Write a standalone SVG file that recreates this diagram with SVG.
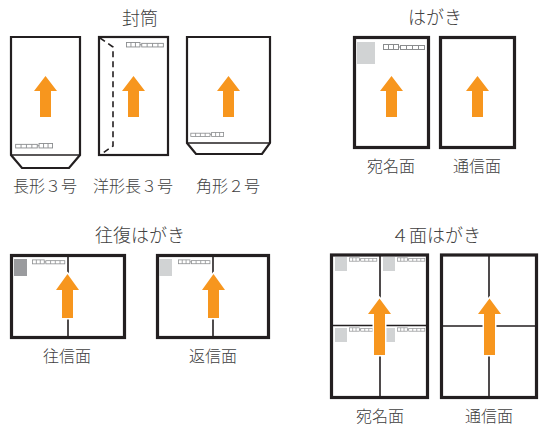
<svg xmlns="http://www.w3.org/2000/svg" xmlns:xlink="http://www.w3.org/1999/xlink" width="539" height="427" viewBox="0 0 539 427">
<style>
text{font-family:"Noto Sans CJK JP","Noto Sans",sans-serif;fill:#404040;text-anchor:middle;font-weight:300}
.t{font-size:18px}
.l{font-size:16px}
.env{fill:#fff;stroke:#231f20;stroke-width:2.2;stroke-linejoin:miter}
.card{fill:#fff;stroke:#231f20;stroke-width:3.2}
.div{stroke:#231f20;stroke-width:1.6;fill:none}
.arr{fill:#f7961e;stroke:#fff;stroke-width:3;paint-order:stroke}
.pc{fill:#fff;stroke:#8a8c8e;stroke-width:1}
.st{fill:#d1d3d4}
.st2{fill:#9a9b9e}
</style>
<defs>
<g id="pc" class="pc">
<rect x="0.5" y="0.5" width="15" height="5"/>
<path d="M5.5 0.5V5.5M10.5 0.5V5.5M15.5 3H17.5"/>
<rect x="17.5" y="1.5" width="24" height="4"/>
<path d="M23.5 1.5V5.5M29.5 1.5V5.5M35.5 1.5V5.5"/>
</g>
<path id="arrA" d="M0 0L11.5 15H5.5V41H-5.5V15H-11.5Z"/>
<path id="arrB" d="M0 0L11.5 16H5.5V44H-5.5V16H-11.5Z"/>
<path id="arrC" d="M0 0L11.5 15.5H5.5V56.5H-5.5V15.5H-11.5Z"/>
</defs>

<g id="title-envelopes"><text class="t" x="140" y="25">封筒</text></g>

<g id="env-naga3">
<path class="env" d="M11 155V37H80V155L69 168H22Z"/>
<path class="div" d="M11 155H80" stroke-width="2.2"/>
<use xlink:href="#pc" transform="translate(53,143) scale(-0.9,0.9)"/>
<use xlink:href="#arrA" class="arr" transform="translate(45.5,76)"/>
<text class="l" x="45" y="192">長形３号</text>
</g>

<g id="env-younaga3">
<rect class="env" x="99" y="37" width="69" height="118"/>
<path d="M100 38L113 47V146L100 155" fill="none" stroke="#231f20" stroke-width="1.6" stroke-dasharray="6 4"/>
<use xlink:href="#pc" transform="translate(126,42) scale(0.9)"/>
<use xlink:href="#arrA" class="arr" transform="translate(133.5,76)"/>
<text class="l" x="133" y="192">洋形長３号</text>
</g>

<g id="env-kaku2">
<path class="env" d="M187 143V37H270V143L262 154H196Z"/>
<path class="div" d="M187 143H270" stroke-width="2.2"/>
<use xlink:href="#pc" transform="translate(224,132) scale(-0.8,0.8)"/>
<use xlink:href="#arrA" class="arr" transform="translate(228.5,76)"/>
<text class="l" x="228" y="192">角形２号</text>
</g>

<g id="title-hagaki"><text class="t" x="435" y="24">はがき</text></g>

<g id="hagaki-address">
<rect class="card" x="354.5" y="37.5" width="74" height="110"/>
<rect class="st" x="357" y="42" width="18" height="22"/>
<use xlink:href="#pc" transform="translate(383,44)"/>
<use xlink:href="#arrA" class="arr" transform="translate(391.5,76)"/>
<text class="l" x="391" y="172">宛名面</text>
</g>

<g id="hagaki-message">
<rect class="card" x="440.5" y="37.5" width="74" height="110"/>
<use xlink:href="#arrA" class="arr" transform="translate(477.5,76)"/>
<text class="l" x="477" y="172">通信面</text>
</g>

<g id="title-oufuku"><text class="t" x="140" y="242">往復はがき</text></g>

<g id="oufuku-out">
<rect class="card" x="11.5" y="255.5" width="113" height="82"/>
<path class="div" d="M68 256V337"/>
<rect class="st2" x="14" y="259" width="13" height="17"/>
<use xlink:href="#pc" transform="translate(32,259.5) scale(0.79)"/>
<use xlink:href="#arrB" class="arr" transform="translate(67.5,274)"/>
<text class="l" x="67" y="362">往信面</text>
</g>

<g id="oufuku-reply">
<rect class="card" x="157.5" y="255.5" width="111" height="82"/>
<path class="div" d="M213 256V337"/>
<rect class="st" x="159" y="259" width="13" height="17"/>
<use xlink:href="#pc" transform="translate(178,259.5) scale(0.77)"/>
<use xlink:href="#arrB" class="arr" transform="translate(213.5,274)"/>
<text class="l" x="213" y="362">返信面</text>
</g>

<g id="title-4men"><text class="t" x="436" y="242">４面はがき</text></g>

<g id="4men-address">
<rect class="card" x="331.5" y="255" width="96" height="142.5"/>
<path class="div" d="M380 255V397M331 325.5H428"/>
<rect class="st" x="335" y="257" width="12" height="14"/>
<use xlink:href="#pc" transform="translate(349,257.5) scale(0.67)"/>
<rect class="st" x="383" y="257" width="12" height="14"/>
<use xlink:href="#pc" transform="translate(397,257.5) scale(0.67)"/>
<rect class="st" x="335" y="328" width="12" height="14"/>
<use xlink:href="#pc" transform="translate(349,327.5) scale(0.67)"/>
<rect class="st" x="383" y="328" width="12" height="14"/>
<use xlink:href="#pc" transform="translate(397,327.5) scale(0.67)"/>
<use xlink:href="#arrC" class="arr" transform="translate(379.5,298.5)"/>
<text class="l" x="380" y="422">宛名面</text>
</g>

<g id="4men-message">
<rect class="card" x="441.5" y="255" width="95" height="142.5"/>
<path class="div" d="M489 255V397M441 326H537"/>
<use xlink:href="#arrC" class="arr" transform="translate(489.5,298.5)"/>
<text class="l" x="489" y="422">通信面</text>
</g>
</svg>
